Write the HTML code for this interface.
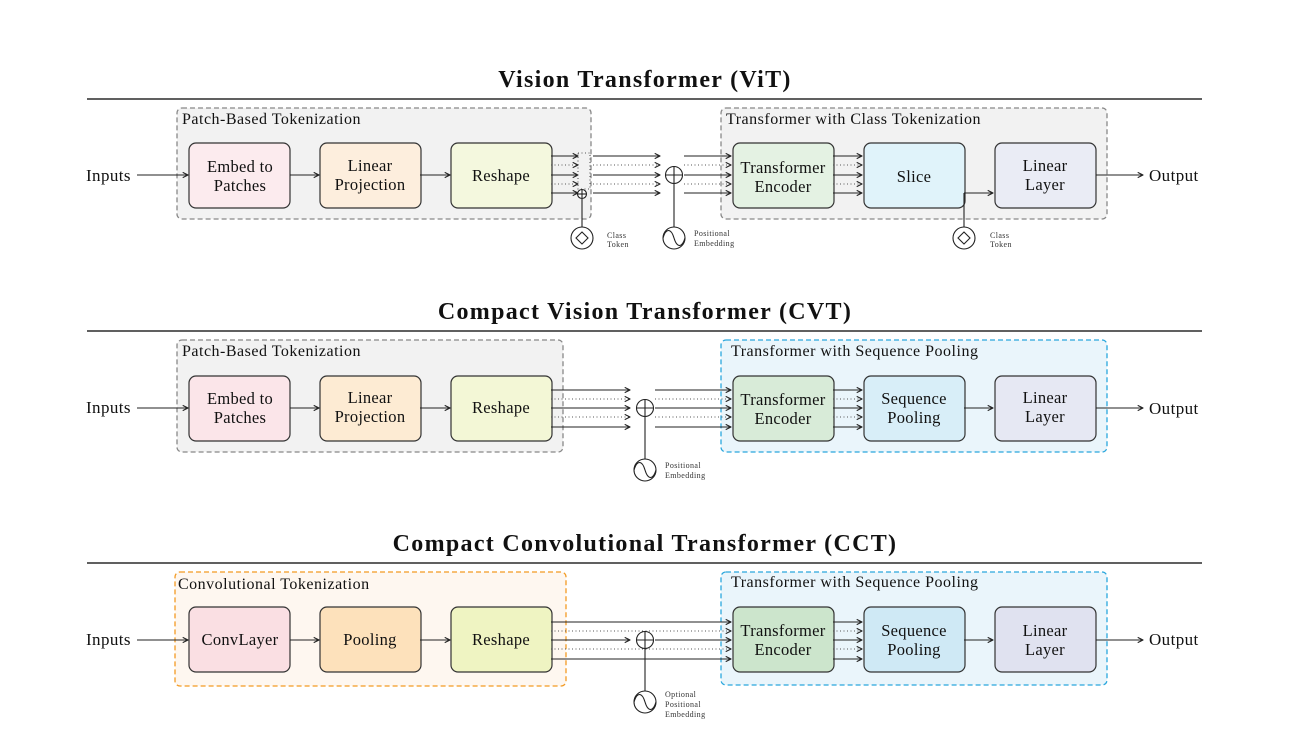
<!DOCTYPE html>
<html><head><meta charset="utf-8"><style>
html,body{margin:0;padding:0;background:#fff;}
svg{display:block;font-family:"Liberation Serif",serif;}
</style></head><body>
<svg id="s" width="1305" height="730" viewBox="0 0 1305 730" xmlns="http://www.w3.org/2000/svg">
<defs>
<marker id="a" viewBox="0 0 10 10" refX="9" refY="5" markerWidth="6" markerHeight="6" orient="auto"><path d="M1,1 L9,5 L1,9" fill="none" stroke="#222" stroke-width="1.6"/></marker>
</defs>
<g id="bg"></g>
<g id="ln" stroke="#222" fill="none" stroke-width="1.1"></g>
<g font-size="16.5" fill="#111" text-anchor="middle" letter-spacing="0.3">
<g font-size="24" font-weight="bold" letter-spacing="1.3">
<text x="645" y="87">Vision Transformer (ViT)</text>
<text x="645" y="319">Compact Vision Transformer (CVT)</text>
<text x="645" y="551">Compact Convolutional Transformer (CCT)</text>
</g>
<g text-anchor="start" font-size="16" letter-spacing="0.5">
<text x="182" y="124">Patch-Based Tokenization</text>
<text x="726" y="124">Transformer with Class Tokenization</text>
<text x="182" y="356">Patch-Based Tokenization</text>
<text x="731" y="356">Transformer with Sequence Pooling</text>
<text x="178" y="589">Convolutional Tokenization</text>
<text x="731" y="587">Transformer with Sequence Pooling</text>
</g>
<g text-anchor="start" font-size="17" letter-spacing="0.4">
<text x="86" y="181">Inputs</text>
<text x="86" y="413">Inputs</text>
<text x="86" y="645">Inputs</text>
<text x="1149" y="181">Output</text>
<text x="1149" y="414">Output</text>
<text x="1149" y="645">Output</text>
</g>
<text x="240" y="172">Embed to</text><text x="240" y="191">Patches</text>
<text x="370" y="171">Linear</text><text x="370" y="190">Projection</text>
<text x="501" y="181">Reshape</text>
<text x="783" y="173">Transformer</text><text x="783" y="192">Encoder</text>
<text x="914" y="182">Slice</text>
<text x="1045" y="171">Linear</text><text x="1045" y="190">Layer</text>

<text x="240" y="404">Embed to</text><text x="240" y="423">Patches</text>
<text x="370" y="403">Linear</text><text x="370" y="422">Projection</text>
<text x="501" y="413">Reshape</text>
<text x="783" y="405">Transformer</text><text x="783" y="424">Encoder</text>
<text x="914" y="404">Sequence</text><text x="914" y="423">Pooling</text>
<text x="1045" y="403">Linear</text><text x="1045" y="422">Layer</text>

<text x="240" y="645">ConvLayer</text>
<text x="370" y="645">Pooling</text>
<text x="501" y="645">Reshape</text>
<text x="783" y="636">Transformer</text><text x="783" y="655">Encoder</text>
<text x="914" y="636">Sequence</text><text x="914" y="655">Pooling</text>
<text x="1045" y="636">Linear</text><text x="1045" y="655">Layer</text>
<g text-anchor="start" font-size="8" fill="#333" letter-spacing="0.4">
<text x="607" y="238">Class</text><text x="607" y="247">Token</text>
<text x="694" y="236">Positional</text><text x="694" y="246">Embedding</text>
<text x="990" y="238">Class</text><text x="990" y="247">Token</text>
<text x="665" y="468">Positional</text><text x="665" y="478">Embedding</text>
<text x="665" y="697">Optional</text><text x="665" y="707">Positional</text><text x="665" y="717">Embedding</text>
</g>
</g>
</svg>
<script>
const NS="http://www.w3.org/2000/svg";
const bg=document.getElementById('bg'),ln=document.getElementById('ln');
function el(p,t,a){const e=document.createElementNS(NS,t);for(const k in a)e.setAttribute(k,a[k]);p.appendChild(e);return e;}
function L(x1,y1,x2,y2,arrow,dot){const a={x1,y1,x2,y2};if(arrow)a['marker-end']='url(#a)';if(dot){a['stroke-dasharray']='1 2.5';a['stroke']='#555';}el(ln,'line',a);}
[99,331,563].forEach(y=>el(bg,'line',{x1:87,y1:y,x2:1202,y2:y,stroke:'#000','stroke-width':1.2}));
function grp(x1,y1,x2,y2,fill,stroke){el(bg,'rect',{x:x1,y:y1,width:x2-x1,height:y2-y1,rx:5,fill,stroke,'stroke-width':1.3,'stroke-dasharray':'5 3'});}
grp(177,108,591,219,'#f2f2f2','#888');grp(721,108,1107,219,'#f2f2f2','#888');
grp(177,340,563,452,'#f2f2f2','#888');grp(721,340,1107,452,'#eaf5fb','#2aa7dd');
grp(175,572,566,686,'#fef7f0','#f39a22');grp(721,572,1107,685,'#eaf5fb','#2aa7dd');
function box(x,y,fill){el(bg,'rect',{x,y,width:101,height:65,rx:7,fill,stroke:'#333','stroke-width':1.2});}
const xs=[189,320,451,733,864,995];
[['#fcebee','#fdeedd','#f4f8de','#e4f2e3','#e0f3fa','#eaecf5',143],
 ['#fbe5e9','#fdebd3','#f3f7d6','#d8ebd8','#d8eef8','#e6e8f3',376],
 ['#fadfe3','#fde1bb','#eff4c2','#cce5cc','#cfe9f5','#e0e2f0',607]].forEach(r=>{xs.forEach((x,i)=>box(x,r[6],r[i]));});
[[175,143],[408,376],[640,607]].forEach(([c,ty])=>{
 L(137,c,188,c,1);L(290,c,319,c,1);L(420,c,450,c,1);L(1096,c,1143,c,1);
});
function sine(cx,cy){el(ln,'circle',{cx,cy,r:11,fill:'#fff'});el(ln,'path',{d:`M${cx-11},${cy} C${cx-8},${cy-10} ${cx-3},${cy-10} ${cx},${cy} C${cx+3},${cy+10} ${cx+8},${cy+10} ${cx+11},${cy}`});}
function plus(cx,cy,r){el(ln,'circle',{cx,cy,r,fill:'#fff'});L(cx-r,cy,cx+r,cy);L(cx,cy-r,cx,cy+r);}
// row1
const r1=[156,165,175,184,193];
r1.forEach((y,i)=>{const d=i%2==1;L(551,y,578,y,1,d);L(593,y,660,y,1,d);L(684,y,731,y,1,d);L(833,y,862,y,1,d);});
el(ln,'rect',{x:578,y:153,width:12,height:36,'stroke-dasharray':'1 2.5',stroke:'#555'});
plus(582,194,4.5);
L(582,199,582,227);el(ln,'circle',{cx:582,cy:238,r:11,fill:'#fff'});el(ln,'path',{d:'M582,232 L588,238 L582,244 L576,238 Z'});
plus(674,175,8.5);
L(674,184,674,227);sine(674,238);
L(964,193,993,193,1);L(964,193,964,227);el(ln,'circle',{cx:964,cy:238,r:11,fill:'#fff'});el(ln,'path',{d:'M964,232 L970,238 L964,244 L958,238 Z'});
// row2
const r2=[390,399,408,417,427];
r2.forEach((y,i)=>{const d=i%2==1;L(551,y,630,y,1,d);L(655,y,731,y,1,d);L(833,y,862,y,1,d);});
L(964,408,993,408,1);
plus(645,408,8.5);
L(645,417,645,459);sine(645,470);
// row3
const r3=[622,631,640,649,659];
r3.forEach((y,i)=>{const d=i%2==1;if(i==2){L(551,y,630,y,1);L(655,y,731,y,1);}else L(551,y,731,y,1,d);L(833,y,862,y,1,d);});
L(964,640,993,640,1);
plus(645,640,8.5);
L(645,649,645,691);sine(645,702);
</script>
</body></html>
